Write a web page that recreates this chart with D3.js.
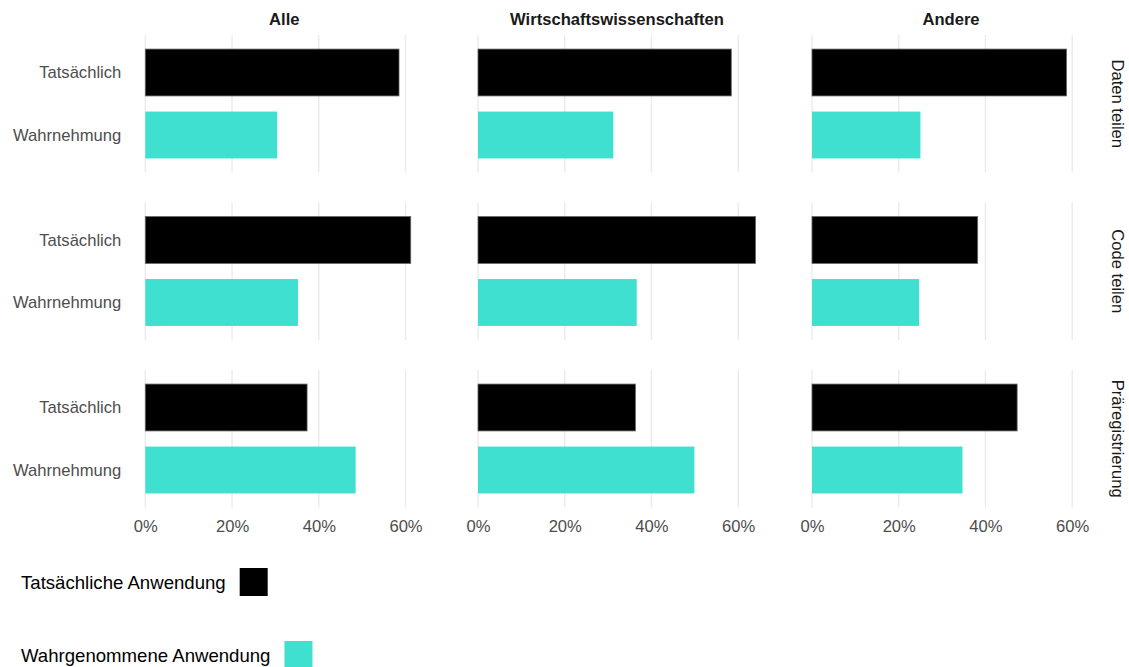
<!DOCTYPE html>
<html><head><meta charset="utf-8">
<script src="https://cdn.jsdelivr.net/npm/d3@7/dist/d3.min.js"></script>
<style>
html,body{margin:0;padding:0;background:#fff;}
svg{display:block;font-family:"Liberation Sans",Arial,Helvetica,sans-serif;}
</style></head><body>
<svg id="chart" width="1129" height="667"></svg>
<script>
const columns = ["Alle", "Wirtschaftswissenschaften", "Andere"];
const rows = ["Daten teilen", "Code teilen", "Präregistrierung"];
const categories = ["Tatsächlich", "Wahrnehmung"];
const xTicks = [0, 0.2, 0.4, 0.6];
const legendLabels = ["Tatsächliche Anwendung", "Wahrgenommene Anwendung"];
const colors = ["#000000", "#40E0D0"];
// values[row][column] = [Tatsächlich, Wahrnehmung]
const datenTeilen = [[0.585, 0.304], [0.584, 0.312], [0.587, 0.250]];
const codeTeilen = [[0.612, 0.352], [0.640, 0.366], [0.382, 0.247]];
const praeregistrierung = [[0.373, 0.485], [0.363, 0.499], [0.473, 0.347]];
const values = [datenTeilen, codeTeilen, praeregistrierung];
const xMax = 0.641;

const svg = d3.select("#chart");
const panelLeft = [145.3, 478, 812];
const panelW = 278;
const panelTop = [35, 202.5, 370];
const panelH = 137.5;
const fs = 16.6;

columns.forEach((col, ci) => {
  const x = d3.scaleLinear().domain([0, xMax]).range([panelLeft[ci], panelLeft[ci] + panelW]);
  svg.append("text").attr("x", panelLeft[ci] + panelW / 2).attr("y", 25)
    .attr("text-anchor", "middle").attr("font-weight", "bold").attr("font-size", fs)
    .attr("fill", "#1a1a1a").text(col);
  rows.forEach((row, ri) => {
    const y = d3.scalePoint().domain(categories).range([panelTop[ri], panelTop[ri] + panelH]).padding(0.6);
    const bh = y.step() * 0.75;
    const g = svg.append("g");
    g.selectAll("line.grid").data(xTicks).join("line")
      .attr("x1", d => x(d)).attr("x2", d => x(d))
      .attr("y1", panelTop[ri]).attr("y2", panelTop[ri] + panelH)
      .attr("stroke", "#ebebeb").attr("stroke-width", 1.4);
    g.selectAll("rect").data(categories.map((c, k) => ({c, v: values[ri][ci][k], k}))).join("rect")
      .attr("x", x(0)).attr("y", d => y(d.c) - bh / 2)
      .attr("width", d => x(d.v) - x(0)).attr("height", bh)
      .attr("fill", d => colors[d.k])
      .attr("stroke", d => d.k === 0 ? "#666" : "none").attr("stroke-width", 0.8);
    if (ci === 0) {
      const ax = d3.axisLeft(y).tickSize(0).tickPadding(24);
      const ag = svg.append("g").attr("transform", `translate(${panelLeft[0]},0)`).call(ax);
      ag.select(".domain").remove();
      ag.selectAll("text").attr("font-size", fs).attr("fill", "#4d4d4d")
        .attr("font-family", "'Liberation Sans',Arial,sans-serif");
    }
    if (ci === columns.length - 1) {
      const cy = panelTop[ri] + panelH / 2;
      svg.append("text").attr("transform", `translate(1112,${cy}) rotate(90)`)
        .attr("text-anchor", "middle").attr("font-size", fs).attr("fill", "#1a1a1a").text(row);
    }
  });
  const axX = d3.axisBottom(x).tickValues(xTicks).tickFormat(d3.format(".0%")).tickSize(0).tickPadding(13);
  const gx = svg.append("g").attr("transform", `translate(0,${panelTop[2] + panelH})`).call(axX);
  gx.select(".domain").remove();
  gx.selectAll("text").attr("font-size", fs).attr("fill", "#4d4d4d")
    .attr("font-family", "'Liberation Sans',Arial,sans-serif");
});

const legY = [582, 655];
legendLabels.forEach((lab, i) => {
  const t = svg.append("text").attr("x", 21).attr("y", legY[i]).attr("dy", "0.35em")
    .attr("font-size", 18.6).attr("fill", "#000").text(lab);
  const w = t.node().getComputedTextLength();
  svg.append("rect").attr("x", 21 + w + 14).attr("y", legY[i] - 14)
    .attr("width", 28).attr("height", 28).attr("fill", colors[i]);
});
</script>
</body></html>
